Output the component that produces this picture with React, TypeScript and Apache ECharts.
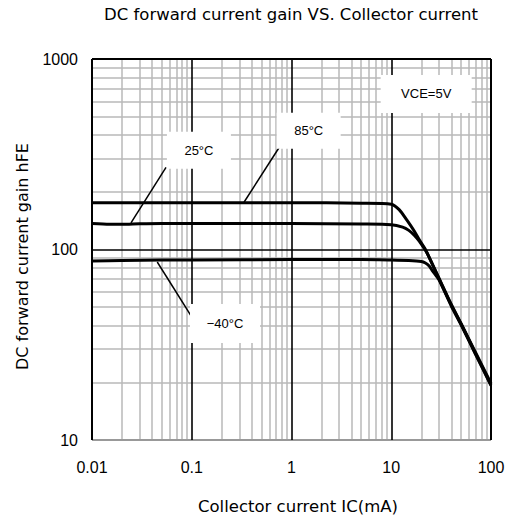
import React, { useEffect, useRef } from "react";
import * as echarts from "echarts";

const xTickLabels = ["0.01", "0.1", "1", "10", "100"];
const yTickLabels = ["10", "100", "1000"];

// Collector current IC (mA) vs hFE
const curve85: [number, number][] = [
  [0.01, 176], [0.1, 176], [1, 176], [5, 175], [10, 173], [12, 162], [14.3, 143],
  [17, 125], [19.2, 112], [22, 100], [24, 91], [30, 71], [40, 51.5], [50, 41], [70, 28.8], [100, 19.8],
];
const curve25: [number, number][] = [
  [0.01, 137], [0.015, 135.8], [0.02, 135.6], [0.03, 136.5], [0.05, 137], [0.1, 137], [1, 137],
  [5, 136], [10, 135], [13, 131], [15, 126], [17, 119], [19, 111], [22, 99], [24, 91],
  [30, 70.5], [40, 51], [50, 40.7], [70, 28.4], [100, 19.5],
];
const curveM40: [number, number][] = [
  [0.01, 87], [0.02, 87.5], [0.05, 88], [0.1, 88], [1, 88.5], [5, 88.5], [10, 88], [15, 87.5],
  [20, 86.5], [22, 85], [24, 82], [26, 77], [30, 69.5], [40, 50.5], [50, 40.3], [70, 28.2], [100, 19.3],
];

const xDecades = [0.01, 0.1, 1, 10, 100];
const yDecades = [10, 100, 1000];
const minorMultipliers = [2, 3, 4, 5, 6, 7, 8, 9];

// annotation labels: text, anchor (IC, hFE), box size
const annotations = [
  { text: "25°C", coord: [0.118, 332], size: [64, 37] },
  { text: "85°C", coord: [1.487, 420], size: [64, 36] },
  { text: "VCE=5V", coord: [22.4, 656], size: [91, 38] },
  { text: "−40°C", coord: [0.2155, 40.9], size: [70, 39] },
];
const leaders: [[number, number], [number, number]][] = [
  [[0.0552, 270], [0.0246, 138]],
  [[0.749, 342], [0.334, 177]],
  [[0.0451, 86], [0.1036, 43]],
];

const FONT = "'Liberation Sans', Arial, sans-serif";
const WIDE = "'DejaVu Sans', sans-serif";

function fmt(v: number) {
  return String(Number(v.toPrecision(6)));
}

export default function App() {
  const ref = useRef<HTMLDivElement>(null);
  useEffect(() => {
    if (!ref.current) return;
    const chart = echarts.init(ref.current, undefined, { renderer: "svg" });

    const gray = { color: "#b9b9b9", width: 1.5, type: "solid" as const };
    const black = { color: "#000", width: 1.6, type: "solid" as const };
    const gridLines: any[] = [];
    xDecades.slice(0, -1).forEach((d) =>
      minorMultipliers.forEach((m) => gridLines.push({ xAxis: d * m, lineStyle: gray }))
    );
    yDecades.slice(0, -1).forEach((d) =>
      minorMultipliers.forEach((m) => gridLines.push({ yAxis: d * m, lineStyle: gray }))
    );
    gridLines.push({ yAxis: 10, lineStyle: { color: "#999", width: 2, type: "solid" } });
    xDecades.forEach((d) =>
      gridLines.push({ xAxis: d, lineStyle: { ...black, width: d === 0.01 || d === 100 ? 2 : 1.6 } })
    );
    yDecades.slice(1).forEach((d) =>
      gridLines.push({ yAxis: d, lineStyle: { ...black, width: d === 1000 ? 2 : 1.6 } })
    );

    const curveSeries = (name: string, data: [number, number][]) => ({
      name,
      type: "line",
      data,
      showSymbol: false,
      symbol: "none",
      smooth: 0.25,
      z: 3,
      lineStyle: { color: "#000", width: 3 },
      silent: true,
    });

    chart.setOption({
      animation: false,
      backgroundColor: "#fff",
      title: {
        text: "DC forward current gain VS. Collector current",
        left: 286,
        top: 1,
        textAlign: "center",
        textStyle: { fontFamily: WIDE, fontSize: 16.5, fontWeight: "normal", color: "#000" },
      },
      grid: { left: 92, top: 59, width: 399, height: 381 },
      xAxis: {
        type: "log",
        logBase: 10,
        min: 0.01,
        max: 100,
        name: "Collector current IC(mA)",
        nameLocation: "middle",
        nameGap: 58,
        nameTextStyle: { fontFamily: WIDE, fontSize: 16.5, color: "#000", padding: [0, 0, 0, 13] },
        axisLine: { show: false },
        axisTick: { show: false },
        splitLine: { show: false },
        axisLabel: {
          fontFamily: FONT,
          fontSize: 16,
          color: "#000",
          margin: 19,
          formatter: (v: number) => fmt(v),
        },
      },
      yAxis: {
        type: "log",
        logBase: 10,
        min: 10,
        max: 1000,
        name: "DC forward current gain hFE",
        nameLocation: "middle",
        nameGap: 62,
        nameTextStyle: { fontFamily: WIDE, fontSize: 16, color: "#000", padding: [0, 14, 0, 0] },
        axisLine: { show: false },
        axisTick: { show: false },
        splitLine: { show: false },
        axisLabel: {
          fontFamily: FONT,
          fontSize: 16,
          color: "#000",
          margin: 14,
          padding: [5, 0, 0, 0],
          formatter: (v: number) => fmt(v),
        },
      },
      series: [
        {
          name: "grid",
          type: "line",
          data: [[1, 100]],
          showSymbol: false,
          symbol: "none",
          lineStyle: { opacity: 0 },
          z: 1,
          silent: true,
          markLine: {
            silent: true,
            z: 1,
            symbol: ["none", "none"],
            label: { show: false },
            data: gridLines,
            animation: false,
          },
        },
        curveSeries("85°C", curve85),
        curveSeries("25°C", curve25),
        curveSeries("-40°C", curveM40),
        {
          name: "labels",
          type: "line",
          data: [[1, 100]],
          showSymbol: false,
          symbol: "none",
          lineStyle: { opacity: 0 },
          z: 5,
          silent: true,
          markLine: {
            silent: true,
            z: 6,
            symbol: ["none", "none"],
            label: { show: false },
            lineStyle: { color: "#000", width: 1.5, type: "solid" },
            data: leaders.map(([a, b]) => [{ coord: a }, { coord: b }]),
          },
          markPoint: {
            silent: true,
            z: 6,
            data: annotations.map((a) => ({
              coord: a.coord,
              symbol: "rect",
              symbolSize: a.size,
              itemStyle: { color: "#fff" },
              label: {
                show: true,
                position: "inside",
                formatter: a.text,
                color: "#000",
                fontFamily: FONT,
                fontSize: 13,
              },
            })),
          },
        },
      ],
    });
    return () => chart.dispose();
  }, []);
  return (
    <div
      ref={ref}
      style={{ position: "fixed", left: 0, top: 0, width: 512, height: 520, background: "#fff" }}
    />
  );
}
